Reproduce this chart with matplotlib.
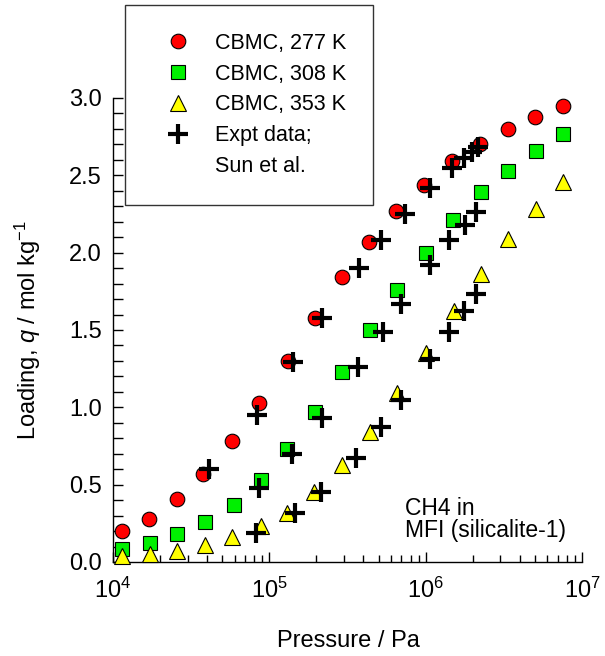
import matplotlib
matplotlib.use("Agg")
import matplotlib.pyplot as plt
from matplotlib.ticker import LogLocator, MultipleLocator, FormatStrFormatter, LogFormatterMathtext, NullFormatter
from matplotlib.lines import Line2D

plt.rcParams['font.family'] = ['Liberation Sans', 'DejaVu Sans']
plt.rcParams['mathtext.fontset'] = 'custom'
plt.rcParams['mathtext.rm'] = 'Liberation Sans'
plt.rcParams['mathtext.it'] = 'Liberation Sans:italic'

# CBMC simulations
p_277 = [1.14e4, 1.70e4, 2.57e4, 3.78e4, 5.8e4, 8.6e4, 1.32e5, 1.97e5, 2.9e5, 4.35e5,
         6.5e5, 9.7e5, 1.47e6, 2.22e6, 3.35e6, 4.98e6, 7.6e6]
q_277 = [0.20, 0.28, 0.41, 0.57, 0.78, 1.03, 1.30, 1.58, 1.84, 2.07,
         2.27, 2.44, 2.59, 2.70, 2.80, 2.88, 2.95]

p_308 = [1.14e4, 1.73e4, 2.57e4, 3.9e4, 5.9e4, 8.8e4, 1.30e5, 1.97e5, 2.9e5, 4.4e5,
         6.6e5, 1.0e6, 1.49e6, 2.25e6, 3.35e6, 5.05e6, 7.6e6]
q_308 = [0.084, 0.12, 0.18, 0.26, 0.37, 0.53, 0.73, 0.97, 1.23, 1.50,
         1.76, 2.00, 2.21, 2.39, 2.53, 2.66, 2.77]

p_353 = [1.14e4, 1.73e4, 2.57e4, 3.9e4, 5.8e4, 8.8e4, 1.30e5, 1.94e5, 2.9e5, 4.4e5,
         6.6e5, 1.0e6, 1.51e6, 2.25e6, 3.35e6, 5.05e6, 7.6e6]
q_353 = [0.04, 0.05, 0.07, 0.11, 0.16, 0.23, 0.32, 0.45, 0.63, 0.84,
         1.09, 1.35, 1.62, 1.86, 2.09, 2.28, 2.46]

# Experimental data (Sun et al.)
pe_277 = [4.13e4, 8.37e4, 1.42e5, 2.18e5, 3.72e5, 5.2e5, 7.35e5, 1.06e6, 1.47e6, 1.76e6, 1.97e6, 2.15e6]
qe_277 = [0.60, 0.95, 1.29, 1.58, 1.90, 2.08, 2.25, 2.42, 2.55, 2.61, 2.65, 2.68]

pe_308 = [8.6e4, 1.40e5, 2.18e5, 3.67e5, 5.3e5, 7.0e5, 1.06e6, 1.42e6, 1.78e6, 2.10e6]
qe_308 = [0.48, 0.70, 0.93, 1.26, 1.49, 1.67, 1.92, 2.08, 2.18, 2.26]

pe_353 = [8.26e4, 1.45e5, 2.15e5, 3.6e5, 5.15e5, 7.0e5, 1.06e6, 1.40e6, 1.76e6, 2.11e6]
qe_353 = [0.19, 0.32, 0.45, 0.67, 0.87, 1.05, 1.31, 1.49, 1.62, 1.73]

labels = ["CBMC, 277 K", "CBMC, 308 K", "CBMC, 353 K", "Expt data;", "Sun et al."]
y_ticks = [0.0, 0.5, 1.0, 1.5, 2.0, 2.5, 3.0]

W, H = 605, 656
fig = plt.figure(figsize=(W / 100, H / 100), dpi=100)
ax = fig.add_axes([113 / W, 1 - 562 / H, (582 - 113) / W, (562 - 98) / H])

FS = 17
RED, GREEN, YELLOW = '#ff0000', '#00f000', '#ffff00'
mk = dict(linestyle='none', markeredgecolor='black', markeredgewidth=0.8, clip_on=False)
ax.plot(p_277, q_277, marker='o', markersize=10.5, markerfacecolor=RED, zorder=3, **mk)
ax.plot(p_308, q_308, marker='s', markersize=10.5, markerfacecolor=GREEN, zorder=3, **mk)
ax.plot(p_353, q_353, marker='^', markersize=12, markerfacecolor=YELLOW, zorder=3, **mk)
ex = dict(linestyle='none', marker='+', markersize=14, markeredgewidth=3, color='black', zorder=4, clip_on=False)
for pe, qe in [(pe_277, qe_277), (pe_308, qe_308), (pe_353, qe_353)]:
    ax.plot(pe, qe, **ex)

ax.set_xscale('log')
ax.set_xlim(1e4, 1e7)
ax.set_ylim(0, 3.0)
ax.spines['top'].set_visible(False)
ax.spines['right'].set_visible(False)
for s in ['left', 'bottom']:
    ax.spines[s].set_linewidth(1.0)

ax.set_yticks(y_ticks)
ax.yaxis.set_major_formatter(FormatStrFormatter('%.1f'))
ax.yaxis.set_minor_locator(MultipleLocator(0.1))
ax.xaxis.set_major_locator(LogLocator(base=10, numticks=10))
ax.xaxis.set_major_formatter(LogFormatterMathtext())
ax.xaxis.set_minor_locator(LogLocator(base=10, subs=range(2, 10), numticks=20))
ax.xaxis.set_minor_formatter(NullFormatter())

ax.tick_params(axis='both', which='major', direction='in', length=7.5, width=1, labelsize=FS)
ax.tick_params(axis='y', which='minor', direction='in', length=7.5, width=1)
ax.tick_params(axis='x', which='minor', direction='in', length=5, width=1)
ax.tick_params(axis='y', which='major', pad=8)
ax.tick_params(axis='x', which='major', pad=11)

fig.text(348 / W, 1 - 641 / H, "Pressure / Pa", fontsize=FS, ha='center', va='center')
fig.text(28 / W, 1 - 330 / H, "Loading, $q$ / mol kg$^{-1}$", fontsize=FS, ha='center', va='center', rotation=90)

fig.text(405 / W, 1 - 537 / H, "CH4 in\nMFI (silicalite-1)", fontsize=16.5, ha='left', va='baseline',
         linespacing=0.92)

handles = [
    Line2D([], [], marker='o', markersize=10.5, markerfacecolor=RED, markeredgecolor='black', markeredgewidth=0.8, linestyle='none'),
    Line2D([], [], marker='s', markersize=10.5, markerfacecolor=GREEN, markeredgecolor='black', markeredgewidth=0.8, linestyle='none'),
    Line2D([], [], marker='^', markersize=12, markerfacecolor=YELLOW, markeredgecolor='black', markeredgewidth=0.8, linestyle='none'),
    Line2D([], [], marker='+', markersize=14, markeredgewidth=3, color='black', linestyle='none'),
    Line2D([], [], linestyle='none', marker=None),
]
bx0, bx1, by0, by1 = 125 / W, 373 / W, 1 - 205 / H, 1 - 5 / H
leg = fig.legend(handles, labels, loc='upper left', bbox_to_anchor=(bx0, by0, bx1 - bx0, by1 - by0),
                 mode='expand', borderaxespad=0, fontsize=15.5, frameon=True, fancybox=False,
                 edgecolor='#333333', framealpha=1, borderpad=1.3, handlelength=2.3,
                 handletextpad=0.56, labelspacing=0.45)
leg.get_frame().set_linewidth(1.0)

fig.savefig("out.png", dpi=100)
